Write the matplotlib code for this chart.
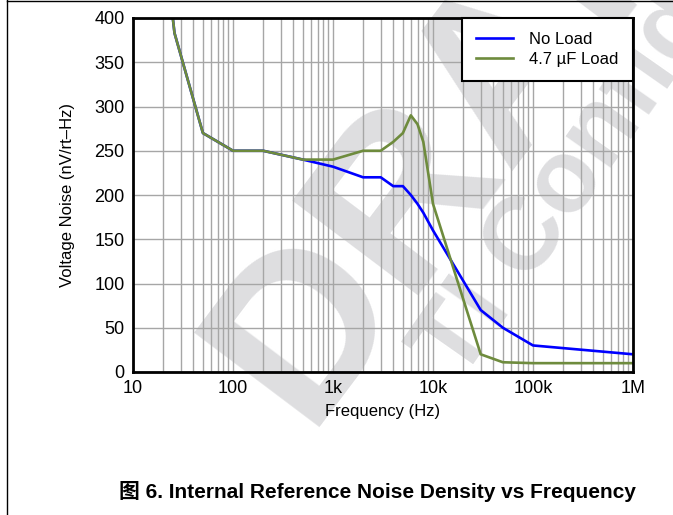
import matplotlib
matplotlib.use("Agg")
import matplotlib.pyplot as plt
from matplotlib.lines import Line2D
from matplotlib.ticker import FixedLocator, LogLocator, NullFormatter

plt.rcParams["font.family"] = ["Liberation Sans", "Noto Sans CJK SC", "DejaVu Sans"]

# values
freq_noload = [25, 26, 50, 100, 200, 500, 1000, 2000, 3000, 4000, 5000,
               6000, 7000, 8000, 10000, 30000, 50000, 100000, 1000000]
noise_noload = [400, 383, 270, 250, 250, 240, 232, 220, 220, 210, 210,
                200, 190, 180, 160, 70, 50, 30, 20]

freq_cap = [25, 26, 50, 100, 200, 500, 1000, 2000, 3000, 4000, 5000,
            6000, 7000, 8000, 10000, 30000, 50000, 100000, 1000000]
noise_cap = [400, 383, 270, 250, 250, 240, 240, 250, 250, 260, 270,
             290, 280, 260, 190, 20, 11, 10, 10]

xticks = [10, 100, 1000, 10000, 100000, 1000000]
xticklabels = ["10", "100", "1k", "10k", "100k", "1M"]
yticks = list(range(0, 401, 50))

fig = plt.figure(figsize=(6.73, 5.15), dpi=100)

# watermark behind everything
wm = "#dedee0"
fig.text(305 / 673, 88 / 515, "DRAFT", fontsize=165, fontweight="bold", color=wm,
         rotation=53, rotation_mode="anchor", ha="left", va="baseline", zorder=-2)
fig.text(460 / 673, 132 / 515, "TI Confidential", fontsize=74, fontweight="bold", color=wm,
         rotation=55, rotation_mode="anchor", ha="left", va="baseline", zorder=-2)

ax = fig.add_axes([133 / 673, 1 - 372 / 515, 500 / 673, 354 / 515])
ax.patch.set_alpha(0)

ax.plot(freq_noload, noise_noload, color="#0000ff", lw=1.9, label="No Load", zorder=3)
ax.plot(freq_cap, noise_cap, color="#6e8b3d", lw=1.9, label="4.7 µF Load", zorder=4)

ax.set_xscale("log")
ax.set_xlim(10, 1e6)
ax.set_ylim(0, 400)
ax.xaxis.set_major_locator(FixedLocator(xticks))
ax.set_xticklabels(xticklabels)
ax.xaxis.set_minor_locator(LogLocator(base=10, subs=range(2, 10), numticks=20))
ax.xaxis.set_minor_formatter(NullFormatter())
ax.set_yticks(yticks)
ax.tick_params(which="both", length=0, labelsize=13, pad=6)

ax.grid(which="major", axis="both", color="#a6a6a6", lw=1)
ax.grid(which="minor", axis="x", color="#a6a6a6", lw=1)
ax.set_axisbelow(True)
for s in ax.spines.values():
    s.set_linewidth(2)
    s.set_zorder(5)

ax.set_xlabel("Frequency (Hz)", fontsize=12, labelpad=5)
ax.set_ylabel("Voltage Noise (nV/rt\u2013Hz)", fontsize=12, labelpad=14)

leg = ax.legend(loc="upper right", fontsize=12, borderaxespad=0, fancybox=False,
                framealpha=1, edgecolor="black", handlelength=2.2, handletextpad=1.0,
                borderpad=0.85, labelspacing=0.3)
leg.get_frame().set_linewidth(1.5)
leg.set_zorder(6)

fig.text(377 / 673, 1 - 492 / 515, "图 6. Internal Reference Noise Density vs Frequency",
         fontsize=15, fontweight="bold", ha="center", va="center")

# page frame edges
fig.add_artist(Line2D([7 / 673, 7 / 673], [0, 1], color="black", lw=1))
fig.add_artist(Line2D([7 / 673, 1], [1 - 1 / 515, 1 - 1 / 515], color="black", lw=1))

fig.savefig("out.png", dpi=100)
